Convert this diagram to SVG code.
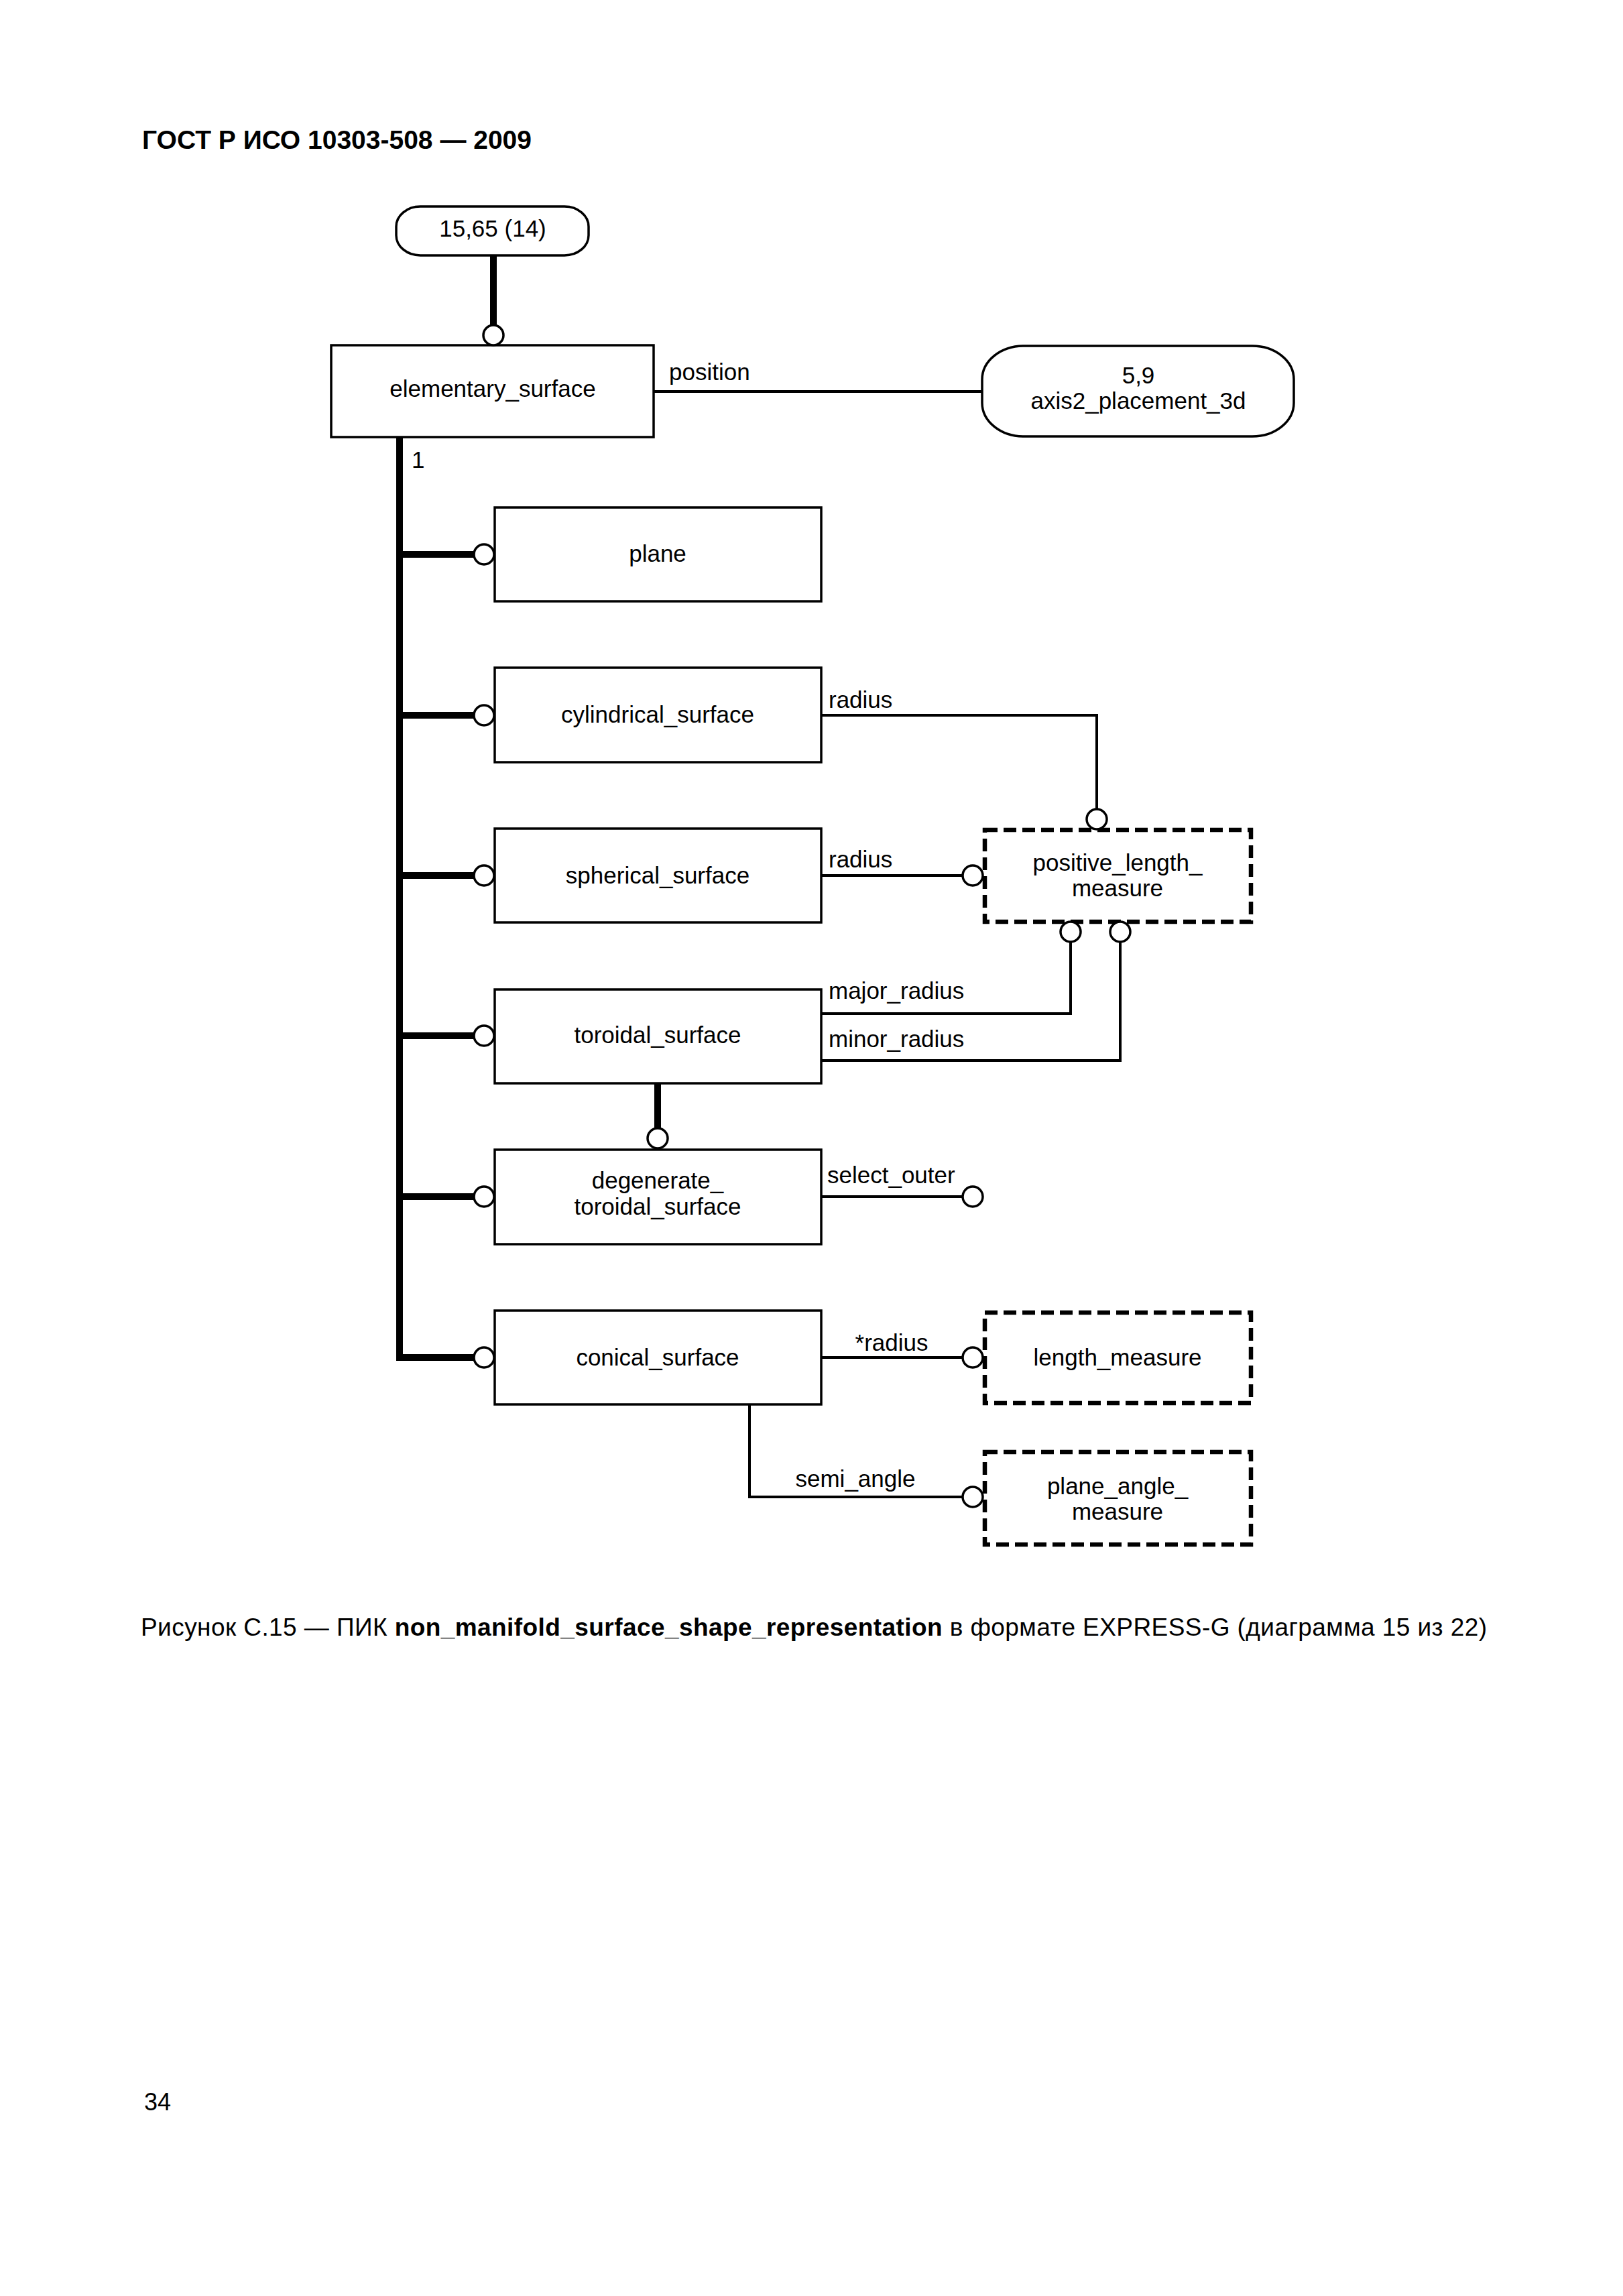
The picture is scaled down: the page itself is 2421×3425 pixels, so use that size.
<svg xmlns="http://www.w3.org/2000/svg" width="2421" height="3425" viewBox="0 0 2421 3425">
<style>
text{font-family:"Liberation Sans",Arial,sans-serif;font-size:35px;fill:#000}
.c{text-anchor:middle}
.box{fill:#fff;stroke:#000;stroke-width:3.5}
.dbox{fill:#fff;stroke:#000;stroke-width:6.5;stroke-dasharray:19 9}
.thin{fill:none;stroke:#000;stroke-width:4}
.thick{fill:none;stroke:#000;stroke-width:10}
.dot{fill:#fff;stroke:#000;stroke-width:3.5}
</style>
<rect width="2421" height="3425" fill="#fff"/>
<text x="212" y="222" style="font-weight:bold;font-size:38px" textLength="581" lengthAdjust="spacingAndGlyphs">ГОСТ Р ИСО 10303-508 — 2009</text>

<g id="connectors">
<path class="thick" d="M736 381V485"/>
<path class="thin" d="M975 584H1465"/>
<path class="thick" d="M596 652V2025H707" stroke-linejoin="miter"/>
<path class="thick" d="M596 827H707M596 1067H707M596 1306H707M596 1545H707M596 1785H707"/>
<path class="thin" d="M1225 1067H1636V1206"/>
<path class="thin" d="M1225 1306H1436"/>
<path class="thin" d="M1597 1405V1512H1225"/>
<path class="thin" d="M1671 1405V1582H1225"/>
<path class="thick" d="M981 1616V1683"/>
<path class="thin" d="M1225 1785H1436"/>
<path class="thin" d="M1225 2025H1436"/>
<path class="thin" d="M1118 2095V2233H1436"/>
</g>

<g id="n_ref_15_65"><rect class="box" x="591" y="308" width="287" height="73" rx="36" ry="30"/><text class="c" x="735" y="353">15,65 (14)</text></g>
<g id="n_elementary_surface"><rect class="box" x="494" y="515" width="481" height="137"/><text class="c" x="735" y="592">elementary_surface</text></g>
<g id="n_axis2"><rect class="box" x="1465" y="516" width="465" height="135" rx="62" ry="50"/><text class="c" x="1698" y="572">5,9</text><text class="c" x="1698" y="610">axis2_placement_3d</text></g>
<g id="n_plane"><rect class="box" x="738" y="757" width="487" height="140"/><text class="c" x="981" y="838">plane</text></g>
<g id="n_cylindrical_surface"><rect class="box" x="738" y="996" width="487" height="141"/><text class="c" x="981" y="1078">cylindrical_surface</text></g>
<g id="n_spherical_surface"><rect class="box" x="738" y="1236" width="487" height="140"/><text class="c" x="981" y="1318">spherical_surface</text></g>
<g id="n_positive_length_measure"><rect class="dbox" x="1469" y="1238" width="397" height="137"/><text class="c" x="1667" y="1299">positive_length_</text><text class="c" x="1667" y="1337">measure</text></g>
<g id="n_toroidal_surface"><rect class="box" x="738" y="1476" width="487" height="140"/><text class="c" x="981" y="1556">toroidal_surface</text></g>
<g id="n_degenerate_toroidal_surface"><rect class="box" x="738" y="1715" width="487" height="141"/><text class="c" x="981" y="1773">degenerate_</text><text class="c" x="981" y="1812">toroidal_surface</text></g>
<g id="n_conical_surface"><rect class="box" x="738" y="1955" width="487" height="140"/><text class="c" x="981" y="2037">conical_surface</text></g>
<g id="n_length_measure"><rect class="dbox" x="1469" y="1958" width="397" height="135"/><text class="c" x="1667" y="2037">length_measure</text></g>
<g id="n_plane_angle_measure"><rect class="dbox" x="1469" y="2166" width="397" height="138"/><text class="c" x="1667" y="2229">plane_angle_</text><text class="c" x="1667" y="2267">measure</text></g>

<g id="dots">
<circle class="dot" cx="736" cy="500" r="15"/>
<circle class="dot" cx="722" cy="827" r="15"/>
<circle class="dot" cx="722" cy="1067" r="15"/>
<circle class="dot" cx="722" cy="1306" r="15"/>
<circle class="dot" cx="722" cy="1545" r="15"/>
<circle class="dot" cx="722" cy="1785" r="15"/>
<circle class="dot" cx="722" cy="2025" r="15"/>
<circle class="dot" cx="1636" cy="1222" r="15"/>
<circle class="dot" cx="1451" cy="1306" r="15"/>
<circle class="dot" cx="1597" cy="1390" r="15"/>
<circle class="dot" cx="1671" cy="1390" r="15"/>
<circle class="dot" cx="981" cy="1698" r="15"/>
<circle class="dot" cx="1451" cy="1785" r="15"/>
<circle class="dot" cx="1451" cy="2025" r="15"/>
<circle class="dot" cx="1451" cy="2233" r="15"/>
</g>

<g id="labels">
<text x="998" y="567">position</text>
<text x="614" y="698">1</text>
<text x="1236" y="1056">radius</text>
<text x="1236" y="1294">radius</text>
<text x="1236" y="1490">major_radius</text>
<text x="1236" y="1562">minor_radius</text>
<text x="1234" y="1765">select_outer</text>
<text class="c" x="1330" y="2015">*radius</text>
<text class="c" x="1276" y="2218">semi_angle</text>
</g>

<text x="210" y="2440" style="font-size:37px" textLength="2008" lengthAdjust="spacing">Рисунок С.15 — ПИК <tspan style="font-weight:bold">non_manifold_surface_shape_representation</tspan> в формате EXPRESS-G (диаграмма 15 из 22)</text>
<text x="215" y="3148" style="font-size:36px">34</text>
</svg>
